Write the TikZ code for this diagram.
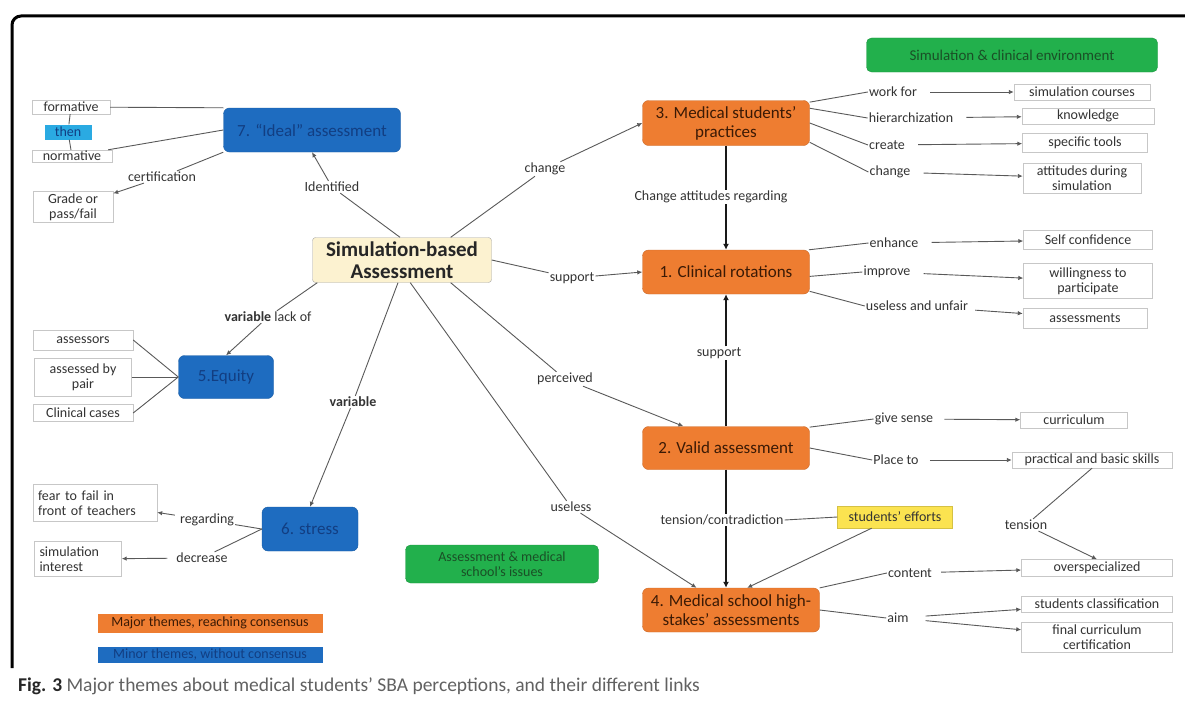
\documentclass[tikz,border=0pt]{standalone}
\usepackage{fontspec}
\setmainfont{Carlito}
\usetikzlibrary{arrows.meta}
\definecolor{themeorange}{HTML}{EE7D31}
\definecolor{themeblue}{HTML}{1E6CC0}
\definecolor{areagreen}{HTML}{22B04C}
\definecolor{effortyellow}{HTML}{FBE350}
\definecolor{sbafill}{HTML}{FCF2D0}
\definecolor{thenblue}{HTML}{2AAAE2}
\definecolor{majortext}{HTML}{3B1A05}
\definecolor{minortext}{HTML}{123E82}
\definecolor{areatext}{HTML}{1A4F26}

\begin{document}
\begin{tikzpicture}
    [x=1pt, y=-1pt,
     theme box/.style={rounded corners=6pt, align=center, inner sep=2pt,
       font=\fontsize{17}{19}\selectfont},
     major theme/.style={theme box, fill=themeorange, draw=themeorange!85!black, text=majortext},
     minor theme/.style={theme box, fill=themeblue, draw=themeblue!85!black, text=minortext},
     area box/.style={rounded corners=5pt, fill=areagreen, draw=areagreen!85!black,
       text=areatext, align=center, inner sep=2pt},
     leaf box/.style={draw=black!22, fill=white, align=center, inner sep=1pt, text=black!80,
       font=\fontsize{14}{15}\selectfont},
     link word/.style={inner sep=1pt, text=black!80, font=\fontsize{14}{15}\selectfont},
     link line/.style={draw=black!65, line width=0.9pt},
     link arrow/.style={link line, -{Latex[length=5pt,width=4.5pt]}},
     spine line/.style={draw=black!90, line width=2.8pt},
     spine arrow/.style={spine line, -{Latex[length=6pt,width=6pt]}}]
    \useasboundingbox (0,0) rectangle (1185,701);
    \draw[line width=3pt, rounded corners=9pt] (12,668) -- (12,16) -- (1185,16);

    % themes
    \node[draw=black!35, fill=sbafill, rounded corners=3pt, align=center, inner sep=1pt,
      minimum width=179, minimum height=45, font=\bfseries\fontsize{21}{22}\selectfont,
      text=black!85] (sba) at (402,260) {Simulation-based\\Assessment};
    \node[major theme, minimum width=167, minimum height=45] (n3) at (726,123)
      {3. Medical students'\\practices};
    \node[major theme, minimum width=167, minimum height=44] (n1) at (726,272)
      {1. Clinical rotations};
    \node[major theme, minimum width=167, minimum height=43] (n2) at (726,448)
      {2. Valid assessment};
    \node[major theme, minimum width=177, minimum height=44] (n4) at (731,610)
      {4. Medical school high-\\stakes' assessments};
    \node[minor theme, minimum width=177, minimum height=44] (n7) at (312,130)
      {7. ``Ideal'' assessment};
    \node[minor theme, minimum width=95, minimum height=43] (equity) at (226,377) {5.Equity};
    \node[minor theme, minimum width=96, minimum height=44] (stress) at (310,529) {6. stress};
    \node[area box, minimum width=291, minimum height=34, font=\fontsize{15}{16}\selectfont]
      (simarea) at (1012,55) {Simulation \& clinical environment};
    \node[area box, minimum width=193, minimum height=38, font=\fontsize{14}{15}\selectfont]
      (schoolarea) at (502,564) {Assessment \& medical\\school's issues};
    \node[fill=effortyellow, draw=effortyellow!85!black, minimum width=115, minimum height=22,
      inner sep=1pt, text=black!80, font=\fontsize{14}{15}\selectfont]
      (efforts) at (895,517) {students' efforts};

    % legend and caption
    \node[fill=themeorange, minimum width=225, minimum height=19, inner sep=1pt,
      text=majortext, font=\fontsize{14}{15}\selectfont]
      (legmajor) at (210,623) {Major themes, reaching consensus};
    \node[fill=themeblue, minimum width=225, minimum height=16, inner sep=1pt,
      text=minortext, font=\fontsize{14}{15}\selectfont]
      (legminor) at (210,655) {Minor themes, without consensus};
    \node[anchor=west, inner sep=0pt, text=black!62, font=\fontsize{19.5}{21}\selectfont]
      (caption) at (18,686)
      {\textbf{\color{black!85}Fig. 3} Major themes about medical students' SBA perceptions, and their different links};

    % leaves
    \node[leaf box, minimum width=78, minimum height=14] (formative) at (71,107) {formative};
    \node[leaf box, draw=none, fill=thenblue, text=minortext, minimum width=47,
      minimum height=15] (then) at (68,132) {then};
    \node[leaf box, minimum width=80, minimum height=12] (normative) at (72,156) {normative};
    \node[leaf box, minimum width=80, minimum height=31] (grade) at (73,207) {Grade or\\pass/fail};
    \node[leaf box, minimum width=100, minimum height=20] (assessors) at (83,340) {assessors};
    \node[leaf box, minimum width=97, minimum height=38] (pair) at (83,377) {assessed by\\pair};
    \node[leaf box, minimum width=100, minimum height=17] (cases) at (83,413) {Clinical cases};
    \node[leaf box, align=left, text width=114, inner xsep=5pt, minimum height=37] (fear)
      at (95,503) {fear to fail in\\front of teachers};
    \node[leaf box, align=left, text width=77, inner xsep=5pt, minimum height=35] (siminterest)
      at (78,559) {simulation\\interest};
    \node[leaf box, minimum width=136, minimum height=16] (simcourses) at (1082,92) {simulation courses};
    \node[leaf box, minimum width=132, minimum height=16] (knowledge) at (1088,116) {knowledge};
    \node[leaf box, minimum width=125, minimum height=19] (tools) at (1085,143) {specific tools};
    \node[leaf box, minimum width=118, minimum height=30] (attitudes) at (1082,178)
      {attitudes during\\simulation};
    \node[leaf box, minimum width=129, minimum height=19] (selfconf) at (1088,240) {Self confidence};
    \node[leaf box, minimum width=129, minimum height=35] (willing) at (1088,281)
      {willingness to\\participate};
    \node[leaf box, minimum width=124, minimum height=20] (assessments) at (1085,318) {assessments};
    \node[leaf box, minimum width=107, minimum height=16] (curriculum) at (1074,420) {curriculum};
    \node[leaf box, minimum width=160, minimum height=16] (practical) at (1092,460)
      {practical and basic skills};
    \node[leaf box, minimum width=151, minimum height=17] (overspec) at (1097,568) {overspecialized};
    \node[leaf box, minimum width=151, minimum height=16] (stclass) at (1097,604)
      {students classification};
    \node[leaf box, minimum width=151, minimum height=30] (finalcert) at (1097,637)
      {final curriculum\\certification};

    % link words
    \node[link word] (lchange) at (545,169) {change};
    \node[link word] (lidentified) at (332,187) {Identified};
    \node[link word] (lcert) at (162,177) {certification};
    \node[link word] (lsupport) at (572,278) {support};
    \node[link word] (llack) at (268,317) {\textbf{variable} lack of};
    \node[link word] (lvariable) at (353,402) {\textbf{variable}};
    \node[link word] (lperceived) at (565,379) {perceived};
    \node[link word] (luseless) at (571,507) {useless};
    \node[link word] (lregarding) at (207,520) {regarding};
    \node[link word] (ldecrease) at (202,558) {decrease};
    \node[link word] (lchangeatt) at (711,197) {Change attitudes regarding};
    \node[link word] (lsupportup) at (719,353) {support};
    \node[link word] (lcontradiction) at (722,520) {tension/contradiction};
    \node[link word] (lworkfor) at (893,92) {work for};
    \node[link word] (lhier) at (911,118) {hierarchization};
    \node[link word] (lcreate) at (887,145) {create};
    \node[link word] (lchangeright) at (890,172) {change};
    \node[link word] (lenhance) at (894,243) {enhance};
    \node[link word] (limprove) at (887,272) {improve};
    \node[link word] (lunfair) at (917,306) {useless and unfair};
    \node[link word] (lsense) at (904,419) {give sense};
    \node[link word] (lplace) at (896,460) {Place to};
    \node[link word] (ltension) at (1026,525) {tension};
    \node[link word] (lcontent) at (910,573) {content};
    \node[link word] (laim) at (898,618) {aim};

    % central links
    \draw[link line] (sba.25) -- (lchange);
    \draw[link arrow] (lchange) -- (n3.west);
    \draw[link line] (sba.95) -- (lidentified);
    \draw[link arrow] (lidentified) -- (n7.south);
    \draw[link line] (sba.east) -- (lsupport);
    \draw[link arrow] (lsupport) -- (n1.west);
    \draw[link line] (sba.-165) -- (llack);
    \draw[link arrow] (llack) -- (equity.north);
    \draw[link line] (sba.-100) -- (lvariable);
    \draw[link arrow] (lvariable) -- (stress.north);
    \draw[link line] (sba.-70) -- (luseless);
    \draw[link arrow] (luseless) -- (n4);
    \draw[link line] (sba.-25) -- (lperceived);
    \draw[link arrow] (lperceived) -- (n2.153);

    % spine
    \draw[spine line] (n3.south) -- (n3.south |- lchangeatt.north);
    \draw[spine arrow] (n3.south |- lchangeatt.south) -- (n1.north);
    \draw[spine line] (n2.north) -- (n2.north |- lsupportup.south);
    \draw[spine arrow] (n2.north |- lsupportup.north) -- (n1.south);
    \draw[spine line] (n2.south) -- (n2.south |- lcontradiction.north);
    \draw[spine arrow] (n2.south |- lcontradiction.south) -- (n2.south |- n4.north);
    \draw[link line] (efforts.west) -- (lcontradiction.east);
    \draw[link arrow] (efforts) -- (n4.54);

    % minor themes
    \draw[link line] (formative) -- (then) -- (normative);
    \draw[link line] (formative) -- (n7.north west);
    \draw[link line] (normative) -- (n7.west);
    \draw[link line] (n7.south west) -- (lcert);
    \draw[link arrow] (lcert) -- (grade);
    \draw[link line] (assessors.east) -- (equity.west);
    \draw[link line] (pair.east) -- (equity.west);
    \draw[link line] (cases.east) -- (equity.west);
    \draw[link line] (stress.west) -- (lregarding);
    \draw[link arrow, shorten <=4pt] (lregarding) -- (fear);
    \draw[link line] (stress.west) -- (ldecrease);
    \draw[link arrow, shorten <=8pt] (ldecrease) -- (siminterest);

    % major themes
    \draw[link line] (n3.14) -- (lworkfor.west);
    \draw[link line] (n3.10) -- (lhier.west);
    \draw[link line] (n3.0) -- (lcreate.west);
    \draw[link line] (n3.-13) -- (lchangeright.west);
    \draw[link arrow, shorten <=12pt] (lworkfor) -- (simcourses);
    \draw[link arrow, shorten <=12pt] (lhier) -- (knowledge);
    \draw[link arrow, shorten <=12pt] (lcreate) -- (tools);
    \draw[link arrow, shorten <=12pt] (lchangeright) -- (attitudes);
    \draw[link line] (n1.15) -- (lenhance.west);
    \draw[link line] (n1.-3) -- (limprove.west);
    \draw[link line] (n1.-13) -- (lunfair.west);
    \draw[link arrow, shorten <=12pt] (lenhance) -- (selfconf);
    \draw[link arrow, shorten <=12pt] (limprove) -- (willing);
    \draw[link arrow, shorten <=6pt] (lunfair) -- (assessments);
    \draw[link line] (n2.14) -- (lsense.west);
    \draw[link line] (n2.0) -- (lplace.west);
    \draw[link arrow, shorten <=10pt] (lsense) -- (curriculum);
    \draw[link arrow, shorten <=10pt] (lplace) -- (practical);
    \draw[link line] (practical.south) -- (ltension);
    \draw[link arrow] (ltension) -- (overspec.north);
    \draw[link line] (n4.14) -- (lcontent.west);
    \draw[link line] (n4.0) -- (laim.west);
    \draw[link arrow, shorten <=8pt] (lcontent) -- (overspec);
    \draw[link arrow, shorten <=16pt] (laim) -- (stclass);
    \draw[link arrow, shorten <=16pt] (laim) -- (finalcert);
  \end{tikzpicture}
\end{document}
